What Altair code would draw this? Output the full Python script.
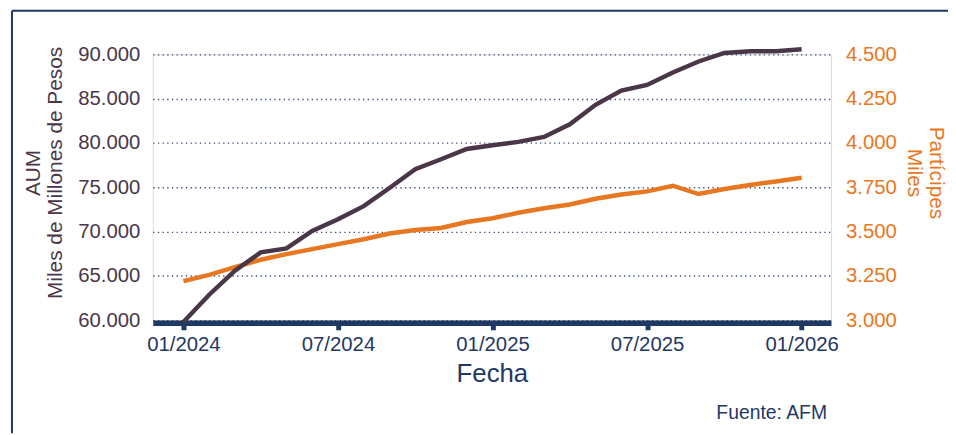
import altair as alt
import pandas as pd

# ---- data ----
months = list(range(25))
month_labels = [
    "01/2024", "02/2024", "03/2024", "04/2024", "05/2024", "06/2024",
    "07/2024", "08/2024", "09/2024", "10/2024", "11/2024", "12/2024",
    "01/2025", "02/2025", "03/2025", "04/2025", "05/2025", "06/2025",
    "07/2025", "08/2025", "09/2025", "10/2025", "11/2025", "12/2025",
    "01/2026",
]
aum = [59800, 62870, 65590, 67650, 68100, 70070, 71380, 72870, 74920, 77050,
       78170, 79320, 79750, 80130, 80690, 82110, 84310, 85920, 86550, 87960,
       89200, 90170, 90360, 90360, 90580]
participes = [3220, 3256, 3299, 3341, 3373, 3401, 3429, 3457, 3489, 3509,
              3520, 3554, 3575, 3606, 3632, 3653, 3685, 3709, 3727, 3759,
              3712, 3740, 3763, 3783, 3804]
tick_positions = [0, 6, 12, 18, 24]
tick_labels = ["01/2024", "07/2024", "01/2025", "07/2025", "01/2026"]
aum_ticks = [60000, 65000, 70000, 75000, 80000, 85000, 90000]
part_ticks = [3000, 3250, 3500, 3750, 4000, 4250, 4500]

NAVY = "#1F3864"
PURPLE = "#4A3648"
ORANGE = "#E87722"
FONT = "Liberation Sans"

df = pd.DataFrame({"m": months, "mes": month_labels, "aum": aum, "part": participes})

x_label_expr = "[" + ",".join(f"'{t}'" for t in tick_labels) + "][round(datum.value / 6)]"
num_expr = "replace(format(datum.value, ',.0f'), ',', '.')"

x_enc = alt.X(
    "m:Q",
    scale=alt.Scale(domain=[-1.19, 25.14], nice=False, zero=False),
    axis=alt.Axis(
        orient="bottom", values=tick_positions, labelExpr=x_label_expr,
        title="Fecha", offset=2.7, domainWidth=5.5, domainColor=NAVY,
        tickSize=7, tickWidth=5, tickColor=NAVY,
        labelColor=NAVY, labelFontSize=20.5, labelFont=FONT, labelPadding=5.1,
        labelFlush=False, labelOverlap=False,
        titleFont=FONT, titleFontSize=26, titleColor=NAVY, titleFontWeight="normal",
        titleBaseline="top", titleY=37.7, grid=False,
    ),
)

orange = alt.Chart(df).mark_line(color=ORANGE, strokeWidth=4.5, strokeCap="butt", clip=False).encode(
    x=x_enc,
    y=alt.Y(
        "part:Q",
        scale=alt.Scale(domain=[3000, 4500], nice=False, zero=False),
        axis=alt.Axis(
            orient="right", values=part_ticks, labelExpr=num_expr,
            domain=False, ticks=False, grid=False,
            labelColor=ORANGE, labelFontSize=20.5, labelFont=FONT, labelPadding=14.7,
            title=["Partícipes", "Miles"], titleAngle=90, titleColor=ORANGE,
            titleFont=FONT, titleFontSize=21, titleFontWeight="normal",
            titleLineHeight=22, titleBaseline="bottom", titleX=95, titleY=119,
        ),
    ),
)

purple = alt.Chart(df).mark_line(color=PURPLE, strokeWidth=4.5, strokeCap="butt", clip=False).encode(
    x=x_enc,
    y=alt.Y(
        "aum:Q",
        scale=alt.Scale(domain=[60000, 90000], nice=False, zero=False),
        axis=alt.Axis(
            orient="left", values=aum_ticks, labelExpr=num_expr,
            domain=False, ticks=False, grid=True,
            gridColor=NAVY, gridDash=[1.3, 3.4], gridWidth=1.4, gridOpacity=0.9,
            labelColor=PURPLE, labelFontSize=20.5, labelFont=FONT, labelPadding=13,
            title=["AUM", "Miles de Millones de Pesos"], titleAngle=-90, titleColor=PURPLE,
            titleFont=FONT, titleFontSize=21, titleFontWeight="normal",
            titleLineHeight=22.5, titleBaseline="bottom", titleX=-110.5, titleY=119,
        ),
    ),
)

frame_df = pd.DataFrame({"k": [0]})
top_border = alt.Chart(frame_df).mark_rule(color=NAVY, strokeWidth=2, clip=False).encode(
    x=alt.value(-142), x2=alt.value(802), y=alt.value(-44)
)
left_border = alt.Chart(frame_df).mark_rule(color=NAVY, strokeWidth=2, clip=False).encode(
    x=alt.value(-142), y=alt.value(-44), y2=alt.value(382)
)

chart = (
    alt.layer(orange, purple, top_border, left_border)
    .resolve_scale(y="independent")
    .properties(
        width=684, height=268, autosize="none",
        padding={"left": 146, "top": 45, "right": 118, "bottom": 114},
        title=alt.TitleParams(
            text="Fuente: AFM", orient="bottom", anchor="end", frame="group",
            dx=-4, offset=-30,
            fontSize=19.5, color=NAVY, font=FONT, fontWeight="normal",
        ),
        background="white",
    )
    .configure_view(stroke=None)
    .configure(font=FONT)
)

chart.save("out.html", embed_options={"renderer": "svg", "actions": False})
